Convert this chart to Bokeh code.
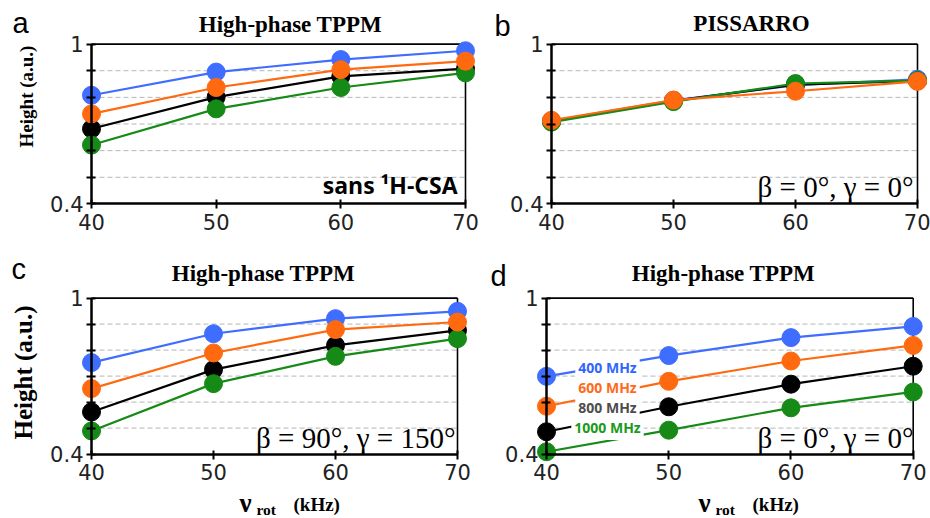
import numpy as np
from bokeh.plotting import figure
from bokeh.models import Label, FixedTicker, Range1d
from bokeh.core.properties import value
from bokeh.layouts import column, row
from bokeh.embed import file_html
from bokeh.resources import INLINE

# ---------------- data ----------------
rot_khz = [40, 50, 60, 70]
fields = ["400 MHz", "600 MHz", "800 MHz", "1000 MHz"]
y_ticks = [0.4, 0.5, 0.6, 0.7, 0.8, 0.9, 1.0]
y_tick_labels = {0.5: "", 0.6: "", 0.7: "", 0.8: "", 0.9: "", 1.0: "1"}

a_400 = [0.808, 0.895, 0.942, 0.975]
a_600 = [0.738, 0.837, 0.904, 0.936]
a_800 = [0.682, 0.801, 0.879, 0.908]
a_1000 = [0.621, 0.757, 0.837, 0.892]

b_400 = [0.712, 0.789, 0.846, 0.868]
b_600 = [0.714, 0.790, 0.823, 0.860]
b_800 = [0.710, 0.787, 0.848, 0.862]
b_1000 = [0.707, 0.784, 0.852, 0.863]

c_400 = [0.752, 0.863, 0.921, 0.949]
c_600 = [0.652, 0.789, 0.879, 0.908]
c_800 = [0.562, 0.725, 0.818, 0.876]
c_1000 = [0.489, 0.671, 0.776, 0.844]

d_400 = [0.699, 0.779, 0.848, 0.891]
d_600 = [0.584, 0.680, 0.758, 0.818]
d_800 = [0.486, 0.582, 0.669, 0.738]
d_1000 = [0.409, 0.492, 0.578, 0.639]

colors = {"400 MHz": "#3f6dff", "600 MHz": "#ff6a10", "800 MHz": "#000000", "1000 MHz": "#168a16"}
label_colors = {"400 MHz": "#2f66ff", "600 MHz": "#ff6a1a", "800 MHz": "#4d4d4d", "1000 MHz": "#1a9a1a"}
draw_order = ["400 MHz", "800 MHz", "1000 MHz", "600 MHz"]

SERIF = "Liberation Serif"
SANS = "DejaVu Sans"


def make_panel(geom, series):
    ox, oy, W, H, X40, X70, Y1, Y04 = geom
    x0, x1 = rot_khz[0], rot_khz[-1]
    y0, y1 = y_ticks[0], y_ticks[-1]
    pxu = (X70 - X40) / (x1 - x0)
    pyu = (Y04 - Y1) / (y1 - y0)
    xr = Range1d(x0 - (X40 - ox) / pxu, x1 + (ox + W - X70) / pxu)
    yr = Range1d(y0 - (oy + H - Y04) / pyu, y1 + (Y1 - oy) / pyu)
    p = figure(width=W, height=H, output_backend="svg", toolbar_location=None,
               x_range=xr, y_range=yr,
               min_border_left=0, min_border_top=0, min_border_right=0, min_border_bottom=0)
    p.title.visible = False
    p.outline_line_color = None
    p.grid.visible = False
    p.background_fill_color = "white"
    p.border_fill_color = "white"

    # dashed gridlines between the labelled limits
    gy = y_ticks[1:-1]
    p.segment(x0=[x0] * len(gy), x1=[x1] * len(gy), y0=gy, y1=gy,
              line_color="#b5b5b5", line_width=1, line_dash="5 3")
    # top and right border of the box
    p.segment(x0=[x0, x1], x1=[x1, x1], y0=[y1, y0], y1=[y1, y1],
              line_color="black", line_width=1.6)

    xa = p.xaxis[0]
    xa.ticker = FixedTicker(ticks=rot_khz)
    xa.fixed_location = y0
    xa.bounds = (x0, x1)
    xa.axis_line_width = 2.5
    xa.major_tick_in = 4
    xa.major_tick_out = 5
    xa.major_tick_line_width = 2
    xa.minor_tick_line_color = None
    xa.major_label_standoff = 5
    xa.major_label_text_font = SANS
    xa.major_label_text_font_size = "21px"
    xa.major_label_text_color = "#222222"

    ya = p.yaxis[0]
    ya.ticker = FixedTicker(ticks=y_ticks)
    ya.major_label_overrides = y_tick_labels
    ya.fixed_location = x0
    ya.bounds = (y0, y1)
    ya.axis_line_width = 2.5
    ya.major_tick_in = 4
    ya.major_tick_out = 5
    ya.major_tick_line_width = 2
    ya.minor_tick_line_color = None
    ya.major_label_standoff = 3
    ya.major_label_text_font = SANS
    ya.major_label_text_font_size = "21px"
    ya.major_label_text_color = "#222222"

    for name in draw_order:
        vals = series[name]
        p.line(rot_khz, vals, line_color=colors[name], line_width=2.2)
        p.scatter(rot_khz, vals, size=18, fill_color=colors[name], line_color=colors[name])
    return p


def text(p, geom, px, py, s, font=SERIF, size=21, style="normal", color="black",
         align="left", **kw):
    ox, oy, W, H = geom[:4]
    p.add_layout(Label(x=px - ox, y=(oy + H) - py, x_units="screen", y_units="screen",
                       text=s, text_font=font, text_font_size=f"{size}px", text_font_style=style,
                       text_color=color, text_align=align, text_baseline="middle", **kw))


def vtext(p, geom, px, py, s, size):
    # vertical axis title drawn as a text glyph, placed through the panel's scales
    ox, oy, W, H, X40, X70, Y1, Y04 = geom
    pxu = (X70 - X40) / (rot_khz[-1] - rot_khz[0])
    pyu = (Y04 - Y1) / (y_ticks[-1] - y_ticks[0])
    dx = rot_khz[0] + (px - X40) / pxu
    dy = y_ticks[-1] - (py - Y1) / pyu
    p.text(x=[dx], y=[dy], text=[s], angle=np.pi / 2, text_font=value(SERIF),
           text_font_size=f"{size}px", text_font_style="bold", text_color="black",
           text_align="center", text_baseline="middle")


def xlabel(p, geom, px):
    text(p, geom, px, 502, "\u03bd", size=27, style="bold")
    text(p, geom, px + 17, 509, "rot", size=15.5, style="bold")
    text(p, geom, px + 54, 504, "(kHz)", size=19, style="bold")


# geometry: page x, page y, width, height, page x of 40 / 70, page y of 1 / 0.4
ga = (0, 0, 480, 250, 91, 465, 43.6, 203.4)
gb = (480, 0, 450, 250, 551, 917, 43.6, 203.4)
gc = (0, 250, 480, 268, 91, 457, 297.6, 453.6)
gd = (480, 250, 450, 268, 546, 912.7, 297.6, 453.6)

pa = make_panel(ga, dict(zip(fields, [a_400, a_600, a_800, a_1000])))
pb = make_panel(gb, dict(zip(fields, [b_400, b_600, b_800, b_1000])))
pc = make_panel(gc, dict(zip(fields, [c_400, c_600, c_800, c_1000])))
pd = make_panel(gd, dict(zip(fields, [d_400, d_600, d_800, d_1000])))

# panel a
text(pa, ga, 12, 22, "a", font="Liberation Sans", size=29)
text(pa, ga, 290, 24, "High-phase TPPM", size=23, style="bold", align="center")
vtext(pa, ga, 26, 96, "Height (a.u.)", 19)
text(pa, ga, 457, 184, "sans \u00b9H-CSA", font="Open Sans", size=23, style="bold", align="right")

# panel b
text(pb, gb, 494, 25, "b", font="Liberation Sans", size=29)
text(pb, gb, 751, 22.5, "PISSARRO", size=23, style="bold", align="center")
text(pb, gb, 913, 186, "\u03b2 = 0\u00b0, \u03b3 = 0\u00b0", size=29, align="right")

# panel c
text(pc, gc, 11, 268, "c", font="Liberation Sans", size=29)
text(pc, gc, 263, 272.5, "High-phase TPPM", size=23, style="bold", align="center")
vtext(pc, gc, 23, 372, "Height (a.u.)", 25)
text(pc, gc, 455, 437, "\u03b2 = 90\u00b0, \u03b3 = 150\u00b0", size=29, align="right")
xlabel(pc, gc, 239)

# panel d
text(pd, gd, 490, 275, "d", font="Liberation Sans", size=29)
text(pd, gd, 723, 272.5, "High-phase TPPM", size=23, style="bold", align="center")
text(pd, gd, 913, 437, "\u03b2 = 0\u00b0, \u03b3 = 0\u00b0", size=29, align="right")
xlabel(pd, gd, 698)
legend_y = [367, 387, 407, 427]
for name, ly in zip(fields, legend_y):
    text(pd, gd, 607, ly, name, font="Open Sans", size=14, style="bold",
         color=label_colors[name], align="center",
         background_fill_color="white", padding=3)

layout = column(row(pa, pb), row(pc, pd))
open("out.html", "w").write(file_html(layout, INLINE))
